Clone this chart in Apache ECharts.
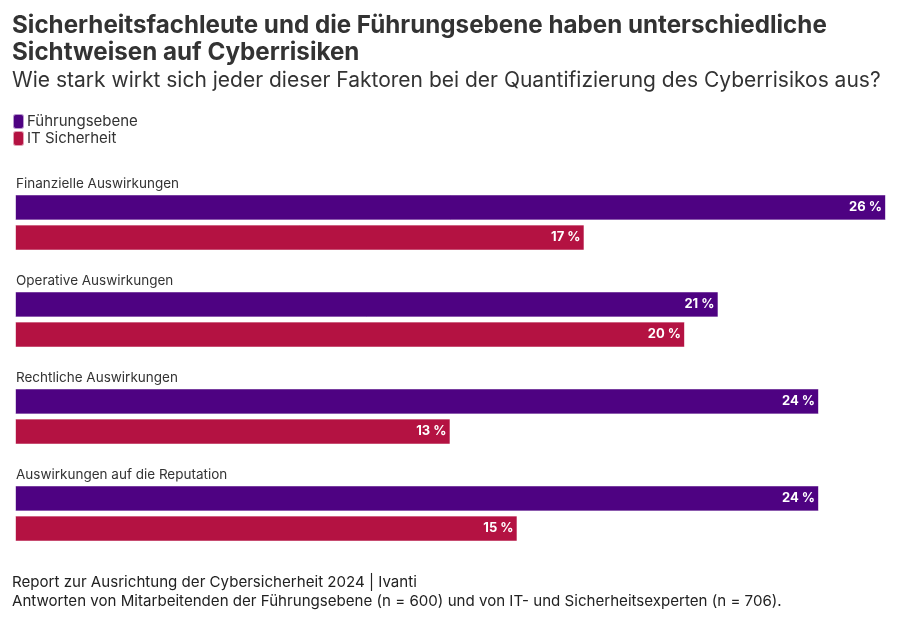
<!DOCTYPE html>
<html>
<head>
<meta charset="utf-8">
<script src="https://cdn.jsdelivr.net/npm/echarts@6/dist/echarts.min.js"></script>
<style>
  html, body { margin: 0; padding: 0; background: #fff; }
  #chart { width: 900px; height: 619px; }
</style>
</head>
<body>
<div id="chart"></div>
<script>
var categories = ['Finanzielle Auswirkungen', 'Operative Auswirkungen', 'Rechtliche Auswirkungen', 'Auswirkungen auf die Reputation'];
var fuehrung = [26, 21, 24, 24];
var itSicherheit = [17, 20, 13, 15];
var seriesNames = ['Führungsebene', 'IT Sicherheit'];

var font = 'Inter';
var chart = echarts.init(document.getElementById('chart'));
chart.setOption({
  animation: false,
  textStyle: { fontFamily: font },
  color: ['#4e0282', '#b41242'],
  title: [
    {
      text: 'Sicherheitsfachleute und die Führungsebene haben unterschiedliche\nSichtweisen auf Cyberrisiken',
      left: 7, top: 7,
      textStyle: { fontSize: 24.2, fontWeight: 'bold', color: '#333', lineHeight: 27, fontFamily: font }
    },
    {
      text: 'Wie stark wirkt sich jeder dieser Faktoren bei der Quantifizierung des Cyberrisikos aus?',
      left: 7, top: 65,
      textStyle: { fontSize: 21, fontWeight: 'normal', color: '#333', fontFamily: font }
    },
    {
      text: 'Report zur Ausrichtung der Cybersicherheit 2024 | Ivanti\nAntworten von Mitarbeitenden der Führungsebene (n = 600) und von IT- und Sicherheitsexperten (n = 706).',
      left: 7, top: 568,
      textStyle: { fontSize: 15.1, fontWeight: 'normal', color: '#222', lineHeight: 19, fontFamily: font }
    }
  ],
  legend: {
    orient: 'vertical',
    left: 7, top: 108,
    icon: 'roundRect',
    itemWidth: 11, itemHeight: 15, itemGap: 0,
    textStyle: { fontSize: 15, color: '#333', lineHeight: 15, padding: [0, 0, 0, -2] },
    data: seriesNames
  },
  grid: { left: 15, right: 14, top: 174, height: 388 },
  xAxis: {
    type: 'value', min: 0, max: 26,
    show: false
  },
  yAxis: {
    type: 'category', inverse: true,
    data: categories,
    axisLine: { show: false },
    axisTick: { show: false },
    axisLabel: {
      inside: true, margin: 1,
      verticalAlign: 'bottom',
      padding: [0, 0, 32, 0],
      fontSize: 13.5, color: '#333'
    }
  },
  series: [
    {
      name: seriesNames[0], type: 'bar', data: fuehrung,
      barWidth: 26, barGap: '16%',
      itemStyle: { borderColor: 'rgba(255,255,255,0.6)', borderWidth: 1 },
      label: { show: true, position: 'insideRight', formatter: '{c} %', color: '#fff', fontWeight: 'bold', fontSize: 13, distance: 4 }
    },
    {
      name: seriesNames[1], type: 'bar', data: itSicherheit,
      barWidth: 26,
      itemStyle: { borderColor: 'rgba(255,255,255,0.6)', borderWidth: 1 },
      label: { show: true, position: 'insideRight', formatter: '{c} %', color: '#fff', fontWeight: 'bold', fontSize: 13, distance: 4 }
    }
  ]
});
window.addEventListener('resize', function () { chart.resize(); });
</script>
</body>
</html>
